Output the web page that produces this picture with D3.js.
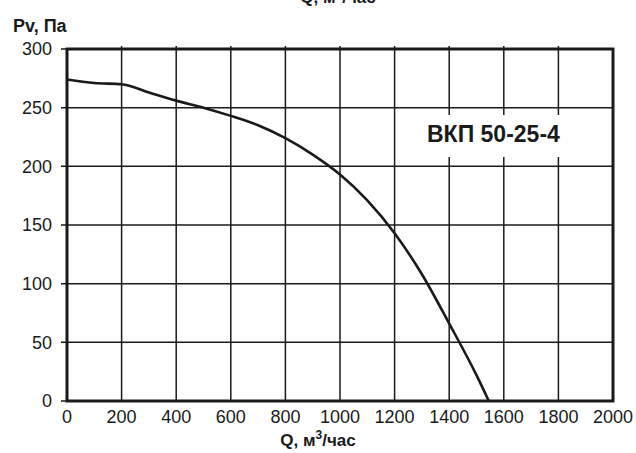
<!DOCTYPE html>
<html>
<head>
<meta charset="utf-8">
<script src="https://cdn.jsdelivr.net/npm/d3@7"></script>
<style>
  body { margin: 0; background: #fff; }
  svg { display: block; font-family: "Liberation Sans", Arial, sans-serif; }
</style>
</head>
<body>
<svg id="chart" width="636" height="453"></svg>
<script>
// fan curve
const flow = [0, 100, 200, 300, 400, 500, 600, 700, 800, 900, 1000, 1100, 1200, 1300, 1400, 1500, 1545];
const pressure = [274, 271, 270, 263, 256, 250, 243, 235, 224, 210, 193, 171, 143, 108, 66, 22, 0];
const xTicks = [0, 200, 400, 600, 800, 1000, 1200, 1400, 1600, 1800, 2000];
const yTicks = [0, 50, 100, 150, 200, 250, 300];
const modelName = "ВКП 50-25-4";

const svg = d3.select("#chart");
const plotLeft = 67, plotRight = 613, plotTop = 49, plotBottom = 401;

const x = d3.scaleLinear().domain([0, 2000]).range([plotLeft, plotRight]);
const y = d3.scaleLinear().domain([0, 300]).range([plotBottom, plotTop]);

// grid
svg.append("g")
  .selectAll("line")
  .data(xTicks.slice(1, -1))
  .join("line")
  .attr("x1", d => x(d)).attr("x2", d => x(d))
  .attr("y1", plotTop - 3).attr("y2", plotBottom)
  .attr("stroke", "#1a1a1a").attr("stroke-width", 1.5);

svg.append("g")
  .selectAll("line")
  .data(yTicks.slice(1, -1))
  .join("line")
  .attr("x1", plotLeft - 6).attr("x2", plotRight)
  .attr("y1", d => y(d)).attr("y2", d => y(d))
  .attr("stroke", "#1a1a1a").attr("stroke-width", 1.5);

// white box behind the model name
svg.append("rect")
  .attr("x", 415).attr("y", 115)
  .attr("width", 160).attr("height", 42)
  .attr("fill", "#fff");

svg.append("text")
  .attr("x", 427).attr("y", 142)
  .attr("font-size", 23).attr("font-weight", "bold")
  .attr("fill", "#1a1a1a")
  .text(modelName);

// frame
svg.append("rect")
  .attr("x", plotLeft).attr("y", plotTop)
  .attr("width", plotRight - plotLeft).attr("height", plotBottom - plotTop)
  .attr("fill", "none")
  .attr("stroke", "#1a1a1a").attr("stroke-width", 3);

// ticks on the outside
svg.append("g")
  .selectAll("line")
  .data([0, 300])
  .join("line")
  .attr("x1", plotLeft - 6).attr("x2", plotLeft)
  .attr("y1", d => y(d)).attr("y2", d => y(d))
  .attr("stroke", "#1a1a1a").attr("stroke-width", 1.5);

// tick labels
svg.append("g")
  .selectAll("text")
  .data(yTicks)
  .join("text")
  .attr("x", 52)
  .attr("y", d => y(d))
  .attr("dy", "0.36em")
  .attr("text-anchor", "end")
  .attr("font-size", 18)
  .attr("fill", "#1a1a1a")
  .text(d => d);

svg.append("g")
  .selectAll("text")
  .data(xTicks)
  .join("text")
  .attr("x", d => x(d))
  .attr("y", 423)
  .attr("text-anchor", "middle")
  .attr("font-size", 18)
  .attr("fill", "#1a1a1a")
  .text(d => d);

// curve
const line = d3.line()
  .x((d, i) => x(flow[i]))
  .y(d => y(d))
  .curve(d3.curveMonotoneX);

svg.append("path")
  .datum(pressure)
  .attr("d", line)
  .attr("fill", "none")
  .attr("stroke", "#1a1a1a")
  .attr("stroke-width", 2.6);

// axis titles
svg.append("text")
  .attr("x", 13).attr("y", 32)
  .attr("font-size", 18).attr("font-weight", "bold")
  .attr("fill", "#1a1a1a")
  .text("Pv, Па");

function qLabel(cx, by) {
  const t = svg.append("text")
    .attr("x", cx).attr("y", by)
    .attr("text-anchor", "middle")
    .attr("font-size", 17).attr("font-weight", "bold")
    .attr("fill", "#1a1a1a");
  t.append("tspan").text("Q, м");
  t.append("tspan").attr("dy", -7).attr("font-size", 12).text("3");
  t.append("tspan").attr("dy", 7).text("/час");
}
qLabel(318, 446);
// the reference image shows the same label cut off at its top edge
qLabel(338, 3);
</script>
</body>
</html>
